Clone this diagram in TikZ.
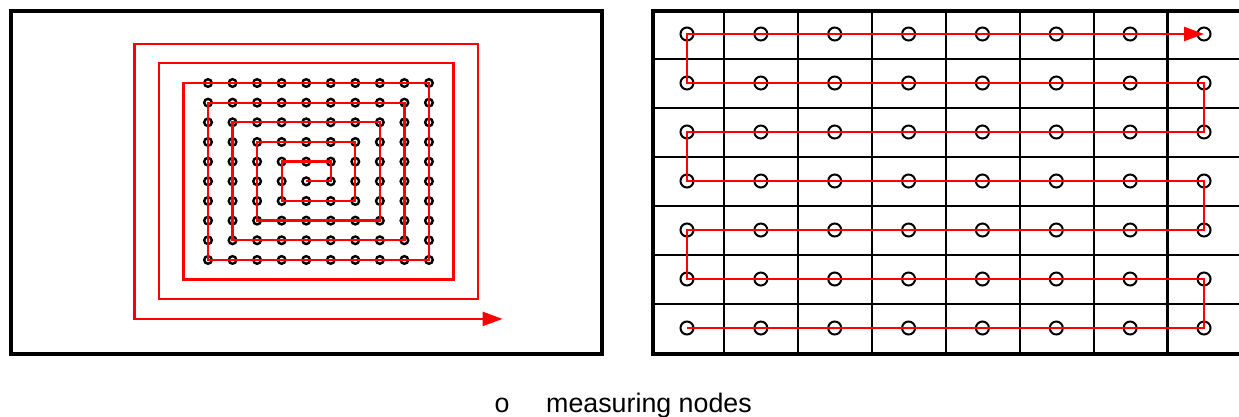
\documentclass[tikz,border=0pt]{standalone}
\usepackage{fontspec}
\setmainfont{Liberation Sans}
\usetikzlibrary{arrows.meta}
\definecolor{pathred}{RGB}{255,0,0}
\begin{document}
\begin{tikzpicture}[x=1pt,y=-1pt,
  frame/.style={line width=4pt, draw=black},
  gridline/.style={line width=2.2pt, draw=black},
  lnode/.style={circle, draw=black, line width=2.4pt, minimum size=7.6pt, inner sep=0pt},
  rnode/.style={circle, draw=black, line width=2pt, minimum size=13pt, inner sep=0pt},
  route/.style={draw=pathred, line width=2.3pt},
  routearrow/.style={route, -{Triangle[length=20pt,width=14pt]}},
  legend/.style={font=\fontsize{26.8}{30}\selectfont, inner sep=0pt}
]
\useasboundingbox (0,0) rectangle (1239,416);

% ---------- left panel ----------
\draw[frame] (10.5,10.5) rectangle (601.5,353.5);
\begin{scope}[shift={(208,83)}, x=24.55pt, y=-19.66pt]
  \foreach \c in {0,...,9} {
    \foreach \r in {0,...,9} {
      \node[lnode] (L-\c-\r) at (\c,\r) {};
    }
  }
  \coordinate (T1) at (-1,0);
  \coordinate (T2) at (-1,10);
  \coordinate (T3) at (10,10);
  \coordinate (T4) at (10,-1);
  \coordinate (T5) at (-2,-1);
  \coordinate (T6) at (-2,11);
  \coordinate (T7) at (11,11);
  \coordinate (T8) at (11,-2);
  \coordinate (T9) at (-3,-2);
  \coordinate (T10) at (-3,12);
  \coordinate (T11) at (12,12);
  \draw[routearrow] (L-4-5.center) -- (L-5-5.center) -- (L-5-4.center)
    -- (L-3-4.center) -- (L-3-6.center) -- (L-6-6.center) -- (L-6-3.center)
    -- (L-2-3.center) -- (L-2-7.center) -- (L-7-7.center) -- (L-7-2.center)
    -- (L-1-2.center) -- (L-1-8.center) -- (L-8-8.center) -- (L-8-1.center)
    -- (L-0-1.center) -- (L-0-9.center) -- (L-9-9.center) -- (L-9-0.center)
    -- (T1) -- (T2) -- (T3) -- (T4) -- (T5) -- (T6) -- (T7) -- (T8)
    -- (T9) -- (T10) -- (T11);
\end{scope}

% ---------- right panel ----------
\foreach \k in {1,...,7} {
  \draw[gridline] ({650.5+73.86*\k},11) -- ({650.5+73.86*\k},353.5);
}
\foreach \k in {1,...,6} {
  \draw[gridline] (652.5,{10+49*\k}) -- (1239,{10+49*\k});
}
\draw[frame] (1239,11) -- (652.5,11) -- (652.5,353.5) -- (1239,353.5);
\begin{scope}[shift={(687,34)}, x=73.86pt, y=-49pt]
  \foreach \c in {0,...,7} {
    \foreach \r in {0,...,6} {
      \node[rnode] (R-\c-\r) at (\c,\r) {};
    }
  }
  \draw[routearrow] (R-0-6.center) -- (R-7-6.center) -- (R-7-5.center)
    -- (R-0-5.center) -- (R-0-4.center) -- (R-7-4.center) -- (R-7-3.center)
    -- (R-0-3.center) -- (R-0-2.center) -- (R-7-2.center) -- (R-7-1.center)
    -- (R-0-1.center) -- (R-0-0.center) -- (R-7-0.center);
\end{scope}

% ---------- legend ----------
\node[legend, anchor=base] (legsym) at (502,412) {o};
\node[legend, anchor=base west] (legtext) at (546,412) {measuring nodes};
\end{tikzpicture}
\end{document}
